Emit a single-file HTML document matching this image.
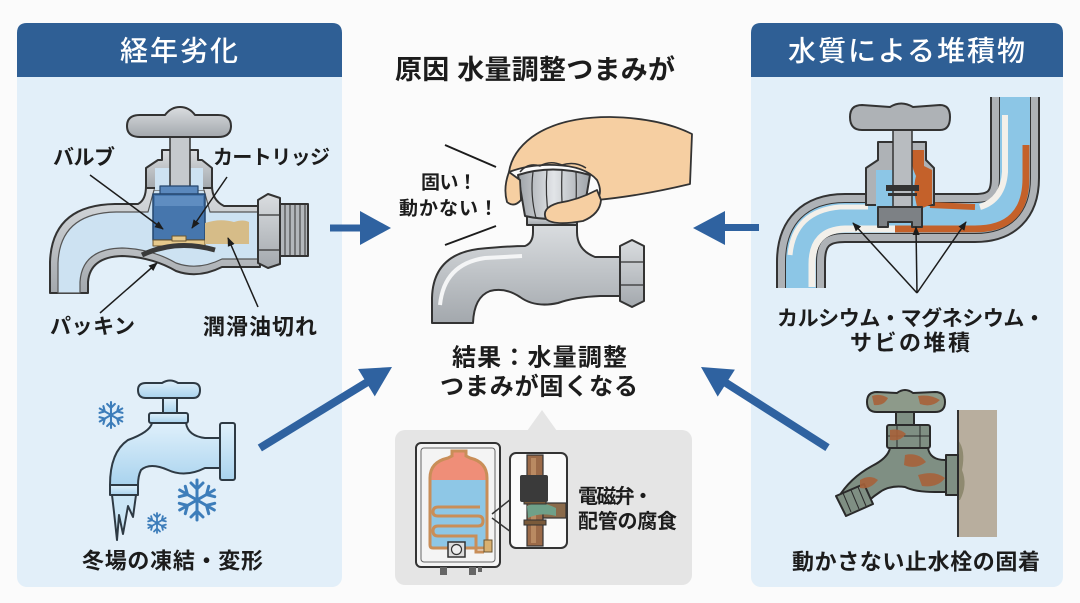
<!DOCTYPE html>
<html><head><meta charset="utf-8">
<style>
html,body{margin:0;padding:0;background:#fbfbfb;}
svg{display:block;}
text{font-family:"Liberation Sans","Noto Sans CJK JP",sans-serif;font-weight:700;fill:#1c1c1c;}
.hd{fill:#ffffff;font-weight:500;}
</style></head><body>
<svg width="1080" height="603" viewBox="0 0 1080 603" xmlns="http://www.w3.org/2000/svg">
<defs>
<marker id="ah" viewBox="0 0 10 10" refX="9" refY="5" markerWidth="6" markerHeight="6" orient="auto"><path d="M0 1 L10 5 L0 9 Z" fill="#1c1c1c"/></marker>
<linearGradient id="steel" x1="0" y1="0" x2="0" y2="1"><stop offset="0" stop-color="#dadde0"/><stop offset="1" stop-color="#a3a8ad"/></linearGradient>
<linearGradient id="ice" x1="0" y1="0" x2="0" y2="1"><stop offset="0" stop-color="#dff0fb"/><stop offset="1" stop-color="#a9d3ee"/></linearGradient>
<linearGradient id="knob" x1="0" y1="0" x2="1" y2="0"><stop offset="0" stop-color="#9ea3a8"/><stop offset=".5" stop-color="#e2e5e8"/><stop offset="1" stop-color="#9ea3a8"/></linearGradient>
</defs>

<!-- Left panel -->
<rect x="17" y="23" width="325" height="564" rx="10" fill="#e2eff9"/>
<path d="M17 77 V33 Q17 23 27 23 H332 Q342 23 342 33 V77 Z" fill="#2f5f95"/>
<text class="hd" x="120" y="51" dominant-baseline="central" font-size="28" textLength="118">経年劣化</text>

<!-- Right panel -->
<rect x="751" y="23" width="312" height="564" rx="10" fill="#e2eff9"/>
<path d="M751 77 V33 Q751 23 761 23 H1053 Q1063 23 1063 33 V77 Z" fill="#2f5f95"/>
<text class="hd" x="788" y="51" dominant-baseline="central" font-size="28" textLength="237">水質による堆積物</text>

<!-- Left cutaway faucet -->
<g stroke="#333" stroke-width="2" stroke-linejoin="round">
<path d="M50 293 L50 262 Q52 205 115 204 L138 204 Q146 200 146 186 L212 186 Q212 200 224 206 L260 206 L260 267 L222 267 Q198 279 176 271 Q152 257 122 256 Q90 257 88 282 L88 293 Z" fill="url(#steel)"/>
<path d="M58 293 L58 263 Q60 213 116 212 L148 212 L154 190 L204 190 L210 212 L258 212 L258 259 L222 259 Q198 271 176 263 Q152 249 122 248 Q82 249 80 282 L80 293 Z" fill="#cde2f2" stroke="#555" stroke-width="1.2"/>
<path d="M146 188 L146 168 L158 160 L162 160 L162 150 L198 150 L198 160 L202 160 L212 168 L212 188 Z" fill="url(#steel)"/>
<rect x="155" y="168" width="48" height="22" fill="#cde2f2" stroke="none"/>
<rect x="170" y="134" width="20" height="58" fill="#c5c9cd" stroke-width="1.5"/>
<path d="M127 126 Q127 115 140 115 L165 115 Q171 107 180 107 Q189 107 195 115 L218 115 Q231 115 231 126 Q231 137 218 137 L140 137 Q127 137 127 126 Z" fill="url(#steel)"/>
<rect x="160" y="186" width="38" height="9" fill="#5a88bd" stroke="#24466e" stroke-width="1.2"/>
<rect x="153" y="194" width="52" height="46" fill="#4676ad" stroke="#24466e" stroke-width="1.5"/>
<rect x="155" y="196" width="48" height="10" fill="#5f8dc1" stroke="none"/>
<rect x="153" y="240" width="52" height="6" fill="#e6c98c" stroke="#6a5530" stroke-width="1"/>
<rect x="172" y="236" width="14" height="5" fill="#e6c98c" stroke="#6a5530" stroke-width="1"/>
<path d="M142 255 Q176 239 215 250" fill="none" stroke="#3a3a3a" stroke-width="5"/>
<path d="M205 223 Q220 218 234 222 Q243 219 249 222 L249 244 L205 244 Z" fill="#d6bc88" stroke="none"/>
<path d="M258 200 L268 194 L280 198 L280 264 L268 268 L258 263 Z" fill="url(#steel)"/>
<path d="M258 215 H280 M258 250 H280" fill="none" stroke-width="1.2"/>
<rect x="280" y="204" width="28" height="52" fill="#b3b7bb"/>
<path d="M285 204 V256 M290 204 V256 M295 204 V256 M300 204 V256 M305 204 V256" fill="none" stroke-width="1"/>
</g>
<g stroke="#1c1c1c" stroke-width="1.5" fill="none" marker-end="url(#ah)">
<line x1="90" y1="175" x2="163" y2="229"/>
<line x1="227" y1="177" x2="192" y2="228"/>
<line x1="100" y1="313" x2="157" y2="263"/>
<line x1="258" y1="307" x2="228" y2="238"/>
</g>
<text x="53" y="158" dominant-baseline="central" font-size="21" textLength="62">バルブ</text>
<text x="213" y="158" dominant-baseline="central" font-size="20" textLength="117">カートリッジ</text>
<text x="50" y="327" dominant-baseline="central" font-size="21" textLength="85">パッキン</text>
<text x="203" y="327" dominant-baseline="central" font-size="22" textLength="114">潤滑油切れ</text>

<!-- Frozen faucet -->
<g stroke="#2e3a44" stroke-width="2" stroke-linejoin="round" fill="url(#ice)">
<path d="M138 390 Q138 383 146 383 L162 383 Q170 378 178 383 L193 383 Q200 383 200 390 Q200 398 193 398 L146 398 Q138 398 138 390 Z"/>
<rect x="163" y="398" width="14" height="15"/>
<rect x="149" y="413" width="39" height="10" rx="2"/>
<path d="M152 423 L186 423 Q188 436 205 438 L221 438 L221 468 L205 468 Q185 478 168 470 Q150 462 141 470 Q138 476 138 485 L110 485 Q110 452 128 440 Q150 432 152 423 Z"/>
<rect x="220" y="423" width="15" height="57" rx="2"/>
<rect x="110" y="485" width="28" height="10"/>
<path d="M112 495 L136 495 L133 517 L128 506 L123 534 L119 515 L117 540 L114 512 Z" fill="#cbe6f6"/>
</g>
<g transform="translate(111,415) scale(1.3)" stroke="#3d7dba" stroke-width="1.6" fill="none" stroke-linecap="round">
<path d="M0 0V-10M0 -5.5L-3 -8.5M0 -5.5L3 -8.5"/><path transform="rotate(60)" d="M0 0V-10M0 -5.5L-3 -8.5M0 -5.5L3 -8.5"/><path transform="rotate(120)" d="M0 0V-10M0 -5.5L-3 -8.5M0 -5.5L3 -8.5"/><path transform="rotate(180)" d="M0 0V-10M0 -5.5L-3 -8.5M0 -5.5L3 -8.5"/><path transform="rotate(240)" d="M0 0V-10M0 -5.5L-3 -8.5M0 -5.5L3 -8.5"/><path transform="rotate(300)" d="M0 0V-10M0 -5.5L-3 -8.5M0 -5.5L3 -8.5"/>
</g>
<g transform="translate(197,500) scale(2)" stroke="#3d7dba" stroke-width="1.5" fill="none" stroke-linecap="round">
<path d="M0 0V-10M0 -5.5L-3 -8.5M0 -5.5L3 -8.5"/><path transform="rotate(60)" d="M0 0V-10M0 -5.5L-3 -8.5M0 -5.5L3 -8.5"/><path transform="rotate(120)" d="M0 0V-10M0 -5.5L-3 -8.5M0 -5.5L3 -8.5"/><path transform="rotate(180)" d="M0 0V-10M0 -5.5L-3 -8.5M0 -5.5L3 -8.5"/><path transform="rotate(240)" d="M0 0V-10M0 -5.5L-3 -8.5M0 -5.5L3 -8.5"/><path transform="rotate(300)" d="M0 0V-10M0 -5.5L-3 -8.5M0 -5.5L3 -8.5"/>
</g>
<g transform="translate(157,523) scale(1)" stroke="#3d7dba" stroke-width="1.8" fill="none" stroke-linecap="round">
<path d="M0 0V-10M0 -5.5L-3 -8.5M0 -5.5L3 -8.5"/><path transform="rotate(60)" d="M0 0V-10M0 -5.5L-3 -8.5M0 -5.5L3 -8.5"/><path transform="rotate(120)" d="M0 0V-10M0 -5.5L-3 -8.5M0 -5.5L3 -8.5"/><path transform="rotate(180)" d="M0 0V-10M0 -5.5L-3 -8.5M0 -5.5L3 -8.5"/><path transform="rotate(240)" d="M0 0V-10M0 -5.5L-3 -8.5M0 -5.5L3 -8.5"/><path transform="rotate(300)" d="M0 0V-10M0 -5.5L-3 -8.5M0 -5.5L3 -8.5"/>
</g>
<text x="82" y="561" dominant-baseline="central" font-size="22" textLength="181">冬場の凍結・変形</text>

<!-- Center title -->
<text x="395" y="70" dominant-baseline="central" font-size="27" textLength="280">原因 水量調整つまみが</text>

<!-- Center faucet + hand -->
<g stroke="#333" stroke-width="2" stroke-linejoin="round">
<path d="M432 323 L432 298 Q433 255 478 249 Q510 246 525 246 Q533 243 533 232 L533 224 L577 224 L577 232 Q577 250 595 257 L622 257 L622 296 L600 296 Q575 297 558 303 Q535 308 520 297 Q505 287 490 291 Q474 297 473 323 Z" fill="url(#steel)"/>
<path d="M440 305 Q444 264 485 258 L522 256" fill="none" stroke="#f4f5f6" stroke-width="4"/>
<path d="M620 246 L632 240 L644 246 L644 301 L632 307 L620 301 Z" fill="url(#steel)"/>
<path d="M620 262 H644 M620 285 H644" fill="none" stroke-width="1.2"/>
<rect x="527" y="215" width="50" height="10" fill="url(#steel)"/>
<path d="M518 175 Q552 164 590 175 L583 216 Q552 222 525 216 Z" fill="url(#knob)"/>
<path d="M533 172 Q530 195 536 218 M547 169 Q545 195 549 220 M562 169 Q561 195 563 220 M576 172 Q577 195 575 218" fill="none" stroke-width="1.2"/>
<path d="M692 134 Q660 118 610 117 Q560 117 532 137 Q512 152 509 172 Q530 164 555 165 Q585 166 597 180 Q603 192 597 200 Q640 196 690 184 Z" fill="#f6cfa2" stroke-width="1.8"/>
<path d="M520 172 Q528 162 540 166 Q550 160 562 165 Q575 161 586 168" fill="none" stroke-width="1.5"/>
<path d="M509 172 Q503 188 507 202 Q514 208 521 200 L520 180 Z" fill="#f6cfa2" stroke-width="1.8"/>
<path d="M597 190 Q578 200 558 203 Q541 208 546 219 Q554 226 583 221 Q600 214 601 200 Z" fill="#f6cfa2" stroke-width="1.8"/>
</g>
<g stroke="#1c1c1c" stroke-width="2">
<line x1="445" y1="145" x2="496" y2="167"/>
<line x1="445" y1="245" x2="496" y2="226"/>
</g>
<text x="421" y="183" dominant-baseline="central" font-size="19" textLength="56">固い！</text>
<text x="399" y="209" dominant-baseline="central" font-size="19" textLength="99">動かない！</text>
<text x="452" y="358" dominant-baseline="central" font-size="24" textLength="175">結果：水量調整</text>
<text x="440" y="387" dominant-baseline="central" font-size="24" textLength="198">つまみが固くなる</text>

<!-- Arrows -->
<g fill="#2f62a0">
<rect x="330" y="224.5" width="33" height="7"/>
<polygon points="360,211 391,228 360,245"/>
<rect x="722" y="224" width="37" height="7"/>
<polygon points="725,211 693,228 725,245"/>
<g transform="translate(392,367) rotate(-31.5)"><rect x="-155" y="-4" width="128" height="8"/><polygon points="-30,-16 0,0 -30,16"/></g>
<g transform="translate(701,367) rotate(-147.5)"><rect x="-150" y="-4" width="123" height="8"/><polygon points="-30,-16 0,0 -30,16"/></g>
</g>

<!-- Callout -->
<rect x="395" y="430" width="297" height="155" rx="10" fill="#e5e5e5"/>
<polygon points="527,431 542,410 557,431" fill="#e5e5e5"/>
<rect x="416" y="443" width="84" height="124" rx="5" fill="#f4f4f4" stroke="#333" stroke-width="2"/>
<rect x="421" y="448" width="74" height="114" rx="3" fill="none" stroke="#666" stroke-width="1"/>
<path d="M430 545 L430 478 Q430 462 448 458 L452 456 L452 451 L466 451 L466 456 L470 458 Q487 462 487 478 L487 545 Q487 548 484 548 L433 548 Q430 548 430 545 Z" fill="#8ec7e6"/>
<path d="M430 480 L430 478 Q430 462 448 458 L452 456 L452 451 L466 451 L466 456 L470 458 Q487 462 487 478 L487 480 Z" fill="#ef8e78"/>
<path d="M430 545 L430 478 Q430 462 448 458 L452 456 L452 451 L466 451 L466 456 L470 458 Q487 462 487 478 L487 545 Q487 548 484 548 L433 548 Q430 548 430 545 Z" fill="none" stroke="#c98e58" stroke-width="3"/>
<path d="M480 507 L438 507 Q433 507 433 512 Q433 516 438 516 L478 516 Q483 516 483 521 Q483 526 478 526 L438 526 Q433 526 433 531 Q433 536 438 536 L476 536 L476 552 L484 552" fill="none" stroke="#c98e58" stroke-width="3"/>
<rect x="484" y="540" width="8" height="12" fill="#d9b070" stroke="#6a5530" stroke-width="1"/>
<rect x="448" y="542" width="17" height="15" fill="#ddd" stroke="#333" stroke-width="1.5"/>
<circle cx="456.5" cy="549.5" r="5" fill="#eee" stroke="#333" stroke-width="1.2"/>
<rect x="440" y="567" width="7" height="8" fill="#666"/>
<rect x="469" y="567" width="7" height="8" fill="#666"/>
<rect x="478" y="567" width="4" height="5" fill="#666"/>
<path d="M492 514 L511 499 M492 518 L511 532" stroke="#333" stroke-width="1.5" fill="none"/>
<rect x="510" y="453" width="57" height="95" rx="6" fill="#fafafa" stroke="#333" stroke-width="2"/>
<rect x="527" y="455" width="16" height="91" fill="#9b6a48" stroke="#333" stroke-width="1.2"/>
<rect x="531" y="458" width="5" height="85" fill="#b98a62"/>
<rect x="543" y="503" width="23" height="15" fill="#8a6a4a" stroke="#333" stroke-width="1.2"/>
<path d="M527 506 Q540 500 556 508 L556 516 Q540 512 528 518 Z" fill="#6fa089"/>
<rect x="524" y="500" width="22" height="4" fill="#7a5a3a" stroke="#333" stroke-width="1"/>
<rect x="524" y="520" width="22" height="5" fill="#7a5a3a" stroke="#333" stroke-width="1"/>
<rect x="520" y="475" width="28" height="27" rx="2" fill="#3a3a3a"/>
<text x="578" y="497" dominant-baseline="central" font-size="20" textLength="75">電磁弁・</text>
<text x="578" y="522" dominant-baseline="central" font-size="20" textLength="99">配管の腐食</text>

<!-- Right pipe illustration -->
<g fill="none" stroke-linejoin="round">
<path d="M801 288 L801 262 Q801 218 845 218 L975 218 Q1015 218 1015 178 L1015 97" stroke="#333" stroke-width="50"/>
<path d="M801 288 L801 262 Q801 218 845 218 L975 218 Q1015 218 1015 178 L1015 97" stroke="#aeb2b6" stroke-width="46"/>
<path d="M801 288 L801 262 Q801 218 845 218 L975 218 Q1015 218 1015 178 L1015 97" stroke="#333" stroke-width="32"/>
<path d="M801 288 L801 262 Q801 218 845 218 L975 218 Q1015 218 1015 178 L1015 97" stroke="#8cc6e6" stroke-width="30"/>
<path d="M812 287 L812 264 Q812 230 845 229 L905 229" stroke="#f3f0ea" stroke-width="7"/>
<path d="M790 255 Q794 211 840 207 L868 207" stroke="#f3f0ea" stroke-width="5"/>
<path d="M1005 115 L1005 172 Q1003 200 980 207" stroke="#f3f0ea" stroke-width="6"/>
<path d="M895 229 L975 229 Q1026 229 1026 178 L1026 145" stroke="#c4612a" stroke-width="7"/>
<path d="M930 205 L975 207" stroke="#c4612a" stroke-width="6"/>
</g>
<g stroke="#333" stroke-width="2" stroke-linejoin="round">
<path d="M866 205 L866 168 L878 160 L878 142 L926 142 L926 160 L934 168 L934 205 Z" fill="#aeb2b6"/>
<rect x="876" y="170" width="48" height="46" fill="#8cc6e6" stroke="none"/>
<path d="M912 150 L924 150 L924 166 L932 170 L932 204 L918 210 Q912 190 916 176 Q910 164 912 150 Z" fill="#c4612a" stroke="none"/>
<rect x="893" y="130" width="19" height="82" fill="#b8bcc0" stroke-width="1.5"/>
<rect x="886" y="185" width="33" height="6" fill="#333" stroke="none"/>
<rect x="888" y="193" width="29" height="3" fill="#333" stroke="none"/>
<path d="M878 207 L922 207 L922 227 L912 227 L912 222 L888 222 L888 227 L878 227 Z" fill="#7d8185"/>
<path d="M850 117 Q850 105 862 105 L890 107 Q901 100 913 107 L940 105 Q950 105 950 117 Q950 130 940 130 L862 130 Q850 130 850 117 Z" fill="#aeb2b6"/>
</g>
<g stroke="#1c1c1c" stroke-width="1.5" fill="none" marker-end="url(#ah)">
<line x1="917" y1="293" x2="853" y2="223"/>
<line x1="917" y1="293" x2="916" y2="227"/>
<line x1="917" y1="293" x2="966" y2="222"/>
</g>
<text x="777" y="319" dominant-baseline="central" font-size="21" textLength="268">カルシウム・マグネシウム・</text>
<text x="850" y="343" dominant-baseline="central" font-size="22" textLength="120">サビの堆積</text>

<!-- Rusty faucet -->
<rect x="958" y="410" width="39" height="127" fill="#b8ae9e"/>
<path d="M958 440 Q966 450 962 470 Q968 485 960 500 L958 500 Z" fill="#8f8a70"/>
<line x1="958" y1="410" x2="958" y2="537" stroke="#333" stroke-width="2"/>
<g stroke="#2a2a2a" stroke-width="2" stroke-linejoin="round">
<path d="M890 448 L928 448 Q930 460 945 460 L948 460 L948 492 L935 492 Q915 492 905 487 Q890 485 880 492 Q868 500 862 508 L838 498 Q850 478 872 466 Q888 458 890 448 Z" fill="#7f8f83"/>
<path d="M836 496 L864 484 L873 504 L846 516 Z" fill="#7f8f83"/>
<path d="M843 493 L851 512 M851 490 L859 509 M858 487 L866 506" fill="none" stroke-width="1"/>
<rect x="946" y="455" width="12" height="40" fill="#7f8f83"/>
<rect x="896" y="412" width="18" height="14" fill="#7f8f83"/>
<rect x="887" y="425" width="43" height="23" rx="2" fill="#7f8f83"/>
<path d="M897 425 V448 M920 425 V448 M887 436 H930" fill="none" stroke-width="1"/>
<path d="M867 402 Q867 392 877 392 L897 393 Q905 387 913 393 L935 392 Q945 392 945 402 Q945 412 935 412 L877 412 Q867 412 867 402 Z" fill="#8d9a8a"/>
</g>
<g fill="#a8623a" opacity="0.9">
<path d="M872 396 Q880 393 888 398 Q884 406 874 405 Z"/>
<path d="M918 396 Q930 394 940 400 Q932 408 920 404 Z"/>
<path d="M905 455 Q918 452 926 462 Q916 470 904 465 Z"/>
<path d="M918 475 Q935 470 945 478 Q938 488 922 486 Z"/>
<path d="M860 480 Q870 474 878 480 Q870 490 860 488 Z"/>
<path d="M890 430 Q900 428 906 434 Q900 442 890 440 Z"/>
</g>
<text x="792" y="562" dominant-baseline="central" font-size="22" textLength="248">動かさない止水栓の固着</text>
</svg>
</body></html>
